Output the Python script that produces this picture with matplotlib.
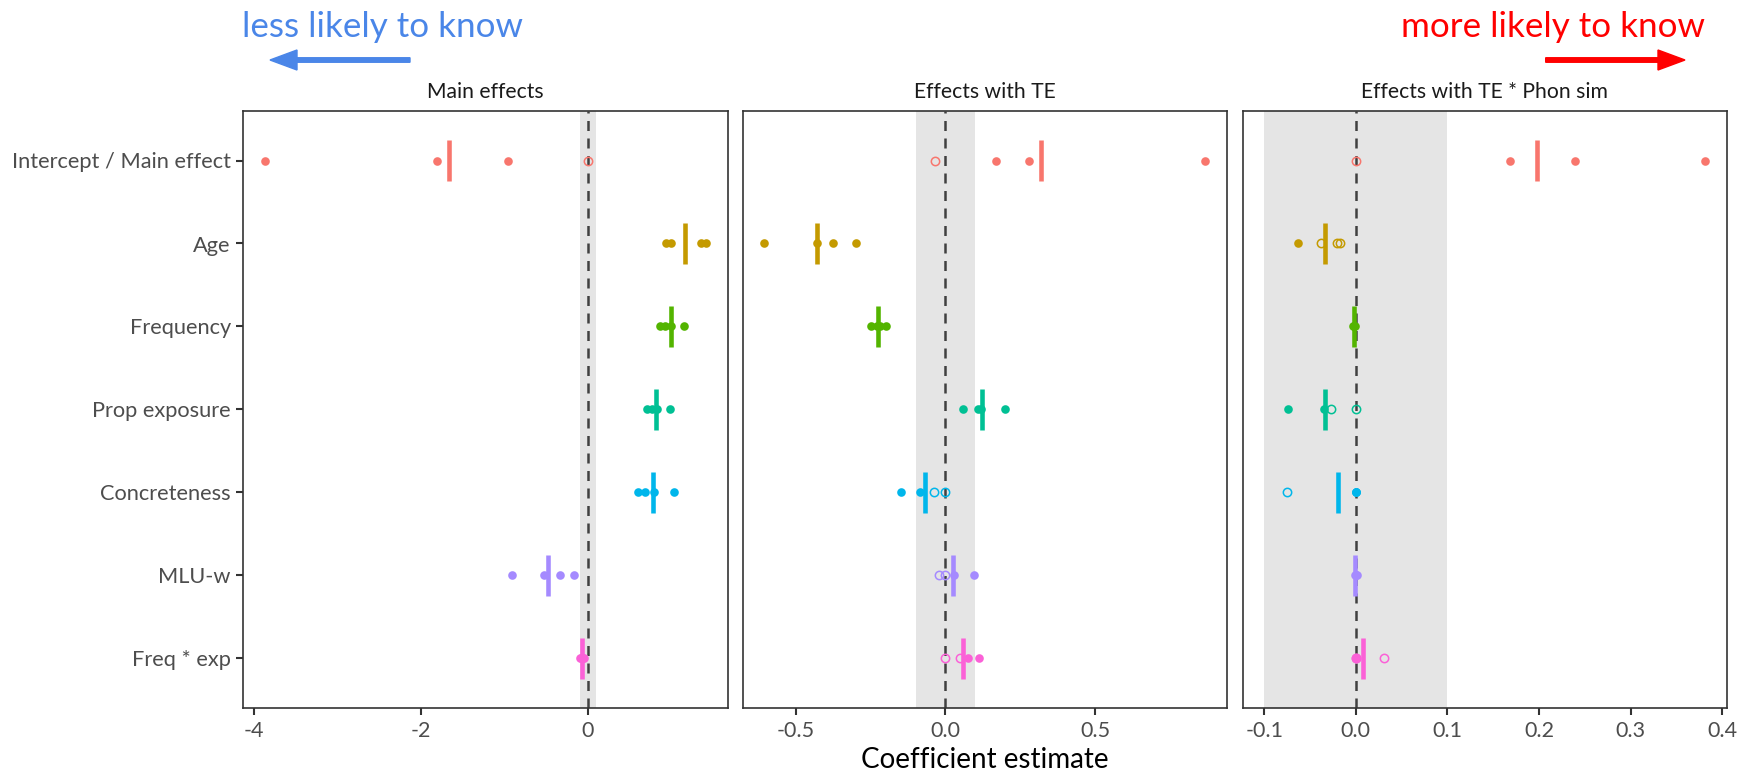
import matplotlib.pyplot as plt
import numpy as np
from matplotlib.patches import FancyArrow

plt.rcParams['font.family'] = ['Lato', 'DejaVu Sans']
plt.rcParams['axes.unicode_minus'] = False

terms = ["Intercept / Main effect", "Age", "Frequency", "Prop exposure",
         "Concreteness", "MLU-w", "Freq * exp"]
colors = ["#F8766D", "#C49A00", "#53B400", "#00C094", "#00B6EB", "#A58AFF", "#FB61D7"]
panel_titles = ["Main effects", "Effects with TE", "Effects with TE * Phon sim"]

# panel 1: main effects
main_pts = [[-3.87, -1.81, -0.96, 0.0],
            [0.93, 1.00, 1.35, 1.41],
            [0.867, 0.927, 0.995, 1.155],
            [0.707, 0.767, 0.827, 0.987],
            [0.595, 0.687, 0.787, 1.027],
            [-0.911, -0.532, -0.332, -0.164],
            [-0.09, -0.08, -0.06, -0.05]]
main_open = [[0, 0, 0, 1], [0, 0, 0, 0], [0, 0, 0, 0], [0, 0, 0, 0],
             [0, 0, 0, 0], [0, 0, 0, 0], [0, 0, 0, 0]]
main_est = [-1.66, 1.167, 0.99, 0.815, 0.775, -0.484, -0.072]

# panel 2: effects with TE
te_pts = [[-0.036, 0.169, 0.279, 0.868],
          [-0.605, -0.428, -0.377, -0.300],
          [-0.25, -0.23, -0.22, -0.20],
          [0.057, 0.11, 0.12, 0.198],
          [-0.149, -0.086, -0.038, 0.0],
          [-0.021, 0.0, 0.029, 0.095],
          [0.0, 0.048, 0.075, 0.112]]
te_open = [[1, 0, 0, 0], [0, 0, 0, 0], [0, 0, 0, 0], [0, 0, 0, 0],
           [0, 0, 1, 1], [1, 1, 0, 0], [1, 1, 0, 0]]
te_est = [0.319, -0.428, -0.224, 0.121, -0.067, 0.025, 0.060]

# panel 3: effects with TE * phon sim
phon_pts = [[0.0, 0.168, 0.239, 0.381],
            [-0.063, -0.038, -0.020, -0.017],
            [-0.003, -0.002, -0.002, -0.001],
            [-0.074, -0.035, -0.027, 0.0],
            [-0.075, 0.0, 0.0, 0.0],
            [-0.001, 0.0, 0.0, 0.001],
            [0.0, 0.0, 0.0, 0.031]]
phon_open = [[1, 0, 0, 0], [0, 1, 1, 1], [0, 0, 0, 0], [0, 0, 1, 1],
             [1, 0, 0, 0], [0, 0, 0, 0], [1, 1, 0, 1]]
phon_est = [0.198, -0.034, -0.002, -0.0335, -0.019, -0.001, 0.0076]

xlims = [(-4.13, 1.674), (-0.677, 0.940), (-0.1234, 0.405)]
xticks = [[-4, -2, 0], [-0.5, 0.0, 0.5], [-0.1, 0.0, 0.1, 0.2, 0.3, 0.4]]
xticklabels = [["-4", "-2", "0"], ["-0.5", "0.0", "0.5"],
               ["-0.1", "0.0", "0.1", "0.2", "0.3", "0.4"]]

W, H = 1738, 775
fig = plt.figure(figsize=(W / 100, H / 100), dpi=100)
lefts = [243.3, 742.7, 1242.7]
ax_w = 484.3
ax_top, ax_bot = 110.7, 708.3

pts_all = [main_pts, te_pts, phon_pts]
open_all = [main_open, te_open, phon_open]
est_all = [main_est, te_est, phon_est]

ypos = np.arange(1, len(terms) + 1)
for k in range(3):
    ax = fig.add_axes([lefts[k] / W, 1 - ax_bot / H, ax_w / W, (ax_bot - ax_top) / H])
    ax.axvspan(-0.1, 0.1, color="#E5E5E5", lw=0, zorder=0)
    ax.axvline(0, color="#404040", lw=1.8, ls=(0, (4, 3)), zorder=1)
    for i in range(len(terms)):
        for v, o in zip(pts_all[k][i], open_all[k][i]):
            if o:
                ax.plot(v, ypos[i], 'o', ms=6, mfc='none', mec=colors[i], mew=1.1, zorder=3)
            else:
                ax.plot(v, ypos[i], 'o', ms=6.2, mfc=colors[i], mec='none', zorder=3)
        ax.vlines(est_all[k][i], ypos[i] - 0.245, ypos[i] + 0.245, color=colors[i],
                  lw=3.3, zorder=4)
    ax.set_xlim(xlims[k])
    ax.set_ylim(7.6, 0.4)
    ax.set_xticks(xticks[k])
    ax.set_xticklabels(xticklabels[k])
    ax.set_yticks(ypos)
    if k == 0:
        ax.set_yticklabels(terms)
        ax.tick_params(axis='y', length=5, width=1.5, color='#333333',
                       labelcolor='#4D4D4D', labelsize=15.7, pad=4)
    else:
        ax.set_yticklabels([])
        ax.tick_params(axis='y', length=0)
    ax.tick_params(axis='x', length=5, width=1.5, color='#333333',
                   labelcolor='#4D4D4D', labelsize=15.5, pad=4)
    for s in ax.spines.values():
        s.set_color('#333333')
        s.set_linewidth(1.2)
    ax.set_title(panel_titles[k], fontsize=15.2, color='#1A1A1A', pad=9)

fig.text(985 / W, 1 - 768 / H, "Coefficient estimate", ha='center', va='baseline',
         fontsize=20, color='black')

fig.text(241.7 / W, 1 - 36.7 / H, "less likely to know", ha='left', va='baseline',
         fontsize=25.2, color='#4A86E8')
fig.text(1705 / W, 1 - 36.7 / H, "more likely to know", ha='right', va='baseline',
         fontsize=25.2, color='#FF0000')

fig.add_artist(FancyArrow(410 / W, 1 - 60 / H, -140 / W, 0, width=4.5 / H,
                          head_width=20 / H, head_length=27 / W,
                          length_includes_head=True, color='#4A86E8',
                          transform=fig.transFigure))
fig.add_artist(FancyArrow(1545.7 / W, 1 - 60 / H, 139.3 / W, 0, width=4.5 / H,
                          head_width=20 / H, head_length=27 / W,
                          length_includes_head=True, color='#FF0000',
                          transform=fig.transFigure))

plt.savefig("out.png", dpi=100)
